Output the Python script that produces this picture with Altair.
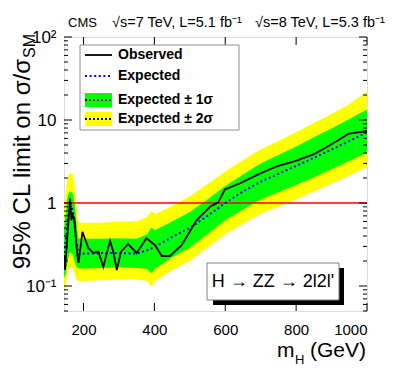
import altair as alt
import pandas as pd

# ---------------- data ----------------
band_m = [145, 150, 155, 160, 165, 170, 175, 180, 185, 190, 200, 250, 300, 350, 380, 390,
          395, 400, 410, 450, 500, 550, 600, 650, 700, 750, 800, 850, 900, 950, 1000]
exp_v = [0.25, 0.35, 0.60, 0.85, 0.93, 0.80, 0.55, 0.33, 0.25, 0.24, 0.245, 0.25, 0.25, 0.245, 0.27, 0.28,
         0.29, 0.30, 0.31, 0.39, 0.50, 0.70, 1.0, 1.38, 1.8, 2.25, 2.8, 3.5, 4.4, 5.6, 7.1]
g_hi = [0.50, 0.75, 1.2, 1.37, 1.37, 1.3, 1.0, 0.6, 0.38, 0.37, 0.37, 0.37, 0.375, 0.37, 0.42, 0.50,
        0.50, 0.47, 0.49, 0.60, 0.78, 1.1, 1.6, 2.2, 3.0, 3.8, 4.8, 6.2, 7.9, 10.3, 13.4]
g_lo = [0.124, 0.14, 0.2, 0.25, 0.25, 0.24, 0.2, 0.17, 0.165, 0.163, 0.163, 0.165, 0.168, 0.165, 0.16, 0.143,
        0.145, 0.16, 0.17, 0.22, 0.29, 0.42, 0.62, 0.83, 1.1, 1.35, 1.65, 2.05, 2.55, 3.2, 4.04]
y_hi = [0.82, 1.3, 2.0, 2.28, 2.28, 2.2, 1.6, 0.9, 0.6, 0.58, 0.58, 0.58, 0.6, 0.6, 0.68, 0.79,
        0.79, 0.74, 0.76, 0.92, 1.2, 1.7, 2.4, 3.3, 4.43, 5.6, 7.1, 9.2, 11.8, 15.5, 21.9]
y_lo = [0.09, 0.095, 0.14, 0.17, 0.17, 0.165, 0.14, 0.12, 0.115, 0.115, 0.115, 0.117, 0.12, 0.12, 0.115, 0.10,
        0.10, 0.113, 0.12, 0.155, 0.2, 0.29, 0.42, 0.56, 0.74, 0.9, 1.1, 1.38, 1.7, 2.15, 2.69]

obs_m = [145, 148, 162, 166, 169, 174, 182, 186, 197, 214, 228, 242, 256, 275, 284, 294, 306, 326, 350, 378,
         402, 421, 444, 477, 519, 557, 580, 599, 642, 689, 726, 750, 797, 849, 872, 919, 947, 1000]
obs_v = [0.236, 0.156, 1.14, 0.62, 0.72, 0.65, 0.25, 0.19, 0.45, 0.285, 0.25, 0.26, 0.17, 0.35, 0.26, 0.156,
         0.26, 0.32, 0.25, 0.375, 0.31, 0.23, 0.23, 0.31, 0.62, 0.90, 1.01, 1.46, 1.73, 2.17, 2.55, 2.8, 3.2,
         3.86, 4.35, 5.7, 6.8, 7.37]

sm_line = [1]
x_major = [200, 400, 600, 800, 1000]
y_major = [0.1, 1, 10, 100]
y_minor = [0.05, 0.06, 0.07, 0.08, 0.09, 0.2, 0.3, 0.4, 0.5, 0.6, 0.7, 0.8, 0.9,
           2, 3, 4, 5, 6, 7, 8, 9, 20, 30, 40, 50, 60, 70, 80, 90]

# ---------------- chart ----------------
W, H = 303, 274
FONT = "Liberation Sans"

band = pd.DataFrame({"m": band_m, "exp": exp_v, "g_lo": g_lo, "g_hi": g_hi,
                     "y_lo": y_lo, "y_hi": y_hi})
obs = pd.DataFrame({"m": obs_m, "v": obs_v})
one = pd.DataFrame({"k": [0]})

xscale = alt.Scale(domain=[145, 1000], nice=False, zero=False)
yscale = alt.Scale(type="log", domain=[0.05, 100], nice=False)
xaxis = alt.Axis(values=x_major, format="d", labelFontSize=15, labelPadding=11, ticks=False,
                 domain=False, grid=False, title="", labelFont=FONT, labelColor="black")
yaxis = alt.Axis(values=y_major, labelFontSize=17, labelPadding=8, ticks=False,
                 domain=False, grid=False, title="", labelFont=FONT, labelColor="black",
                 labelExpr="datum.value < 0.5 ? '10⁻¹' : datum.value > 50 ? '10²' : datum.value > 5 ? '10' : '1'")

X = alt.X("m:Q", scale=xscale, axis=xaxis)

yellow = alt.Chart(band).mark_area(color="#ffff00", clip=True).encode(
    x=X, y=alt.Y("y_lo:Q", scale=yscale, axis=yaxis), y2="y_hi:Q")
green = alt.Chart(band).mark_area(color="#00ff00", clip=True).encode(
    x=X, y=alt.Y("g_lo:Q", scale=yscale, axis=yaxis), y2="g_hi:Q")
red = alt.Chart(pd.DataFrame({"v": sm_line})).mark_rule(color="#ff0000", strokeWidth=1.5).encode(
    y=alt.Y("v:Q", scale=yscale, axis=yaxis))
expected = alt.Chart(band).mark_line(color="#0000ee", strokeWidth=2, strokeDash=[2, 2.6], clip=True).encode(
    x=X, y=alt.Y("exp:Q", scale=yscale, axis=yaxis))
observed = alt.Chart(obs).mark_line(color="black", strokeWidth=1.8, clip=True).encode(
    x=X, y=alt.Y("v:Q", scale=yscale, axis=yaxis))

layers = [yellow, green, red, expected, observed]

# inward ticks
ymaj = pd.DataFrame({"v": y_major})
ymin = pd.DataFrame({"v": y_minor})
xmaj = pd.DataFrame({"m": x_major})
for df, ln in ((ymaj, 8), (ymin, 4)):
    Yt = alt.Y("v:Q", scale=yscale, axis=yaxis)
    layers.append(alt.Chart(df).mark_rule(color="black", strokeWidth=1).encode(
        y=Yt, x=alt.value(0), x2=alt.value(ln)))
    layers.append(alt.Chart(df).mark_rule(color="black", strokeWidth=1).encode(
        y=Yt, x=alt.value(W - ln), x2=alt.value(W)))
layers.append(alt.Chart(xmaj).mark_rule(color="black", strokeWidth=1).encode(
    x=X, y=alt.value(H - 8), y2=alt.value(H)))
layers.append(alt.Chart(xmaj).mark_rule(color="black", strokeWidth=1).encode(
    x=X, y=alt.value(0), y2=alt.value(8)))


def txt(s, x, y, size, **kw):
    return alt.Chart(one).mark_text(text=s, fontSize=size, font=FONT, color="black", **kw).encode(
        x=alt.value(x), y=alt.value(y))


def rect(x, x2, y, y2, **kw):
    return alt.Chart(one).mark_rect(**kw).encode(
        x=alt.value(x), x2=alt.value(x2), y=alt.value(y), y2=alt.value(y2))


def hline(x, x2, y, **kw):
    return alt.Chart(one).mark_rule(**kw).encode(x=alt.value(x), x2=alt.value(x2), y=alt.value(y))


# legend
layers += [
    rect(16, 175, 8, 93, fill="white", stroke="#909090", strokeWidth=1),
    hline(21, 48, 18, color="black", strokeWidth=1.8),
    hline(21, 48, 39, color="#0000ee", strokeWidth=2, strokeDash=[2, 2.6]),
    rect(21, 48, 56, 70, fill="#00ff00"),
    hline(21, 48, 63, color="black", strokeWidth=1.8, strokeDash=[2, 2]),
    rect(21, 48, 75, 89, fill="#ffff00"),
    hline(21, 48, 82, color="black", strokeWidth=1.8, strokeDash=[2, 2]),
    txt("Observed", 54, 18, 14, fontWeight="bold", align="left", baseline="middle"),
    txt("Expected", 54, 39, 14, fontWeight="bold", align="left", baseline="middle"),
    txt("Expected ± 1σ", 54, 63, 14, fontWeight="bold", align="left", baseline="middle"),
    txt("Expected ± 2σ", 54, 82, 14, fontWeight="bold", align="left", baseline="middle"),
]

# channel box with shadow
layers += [
    rect(149, 280, 231, 268, fill="black"),
    rect(143, 275, 226, 263, fill="white", stroke="#808080", strokeWidth=1),
    txt("H → ZZ → 2l2l'", 209, 245, 18, align="center", baseline="middle"),
]

# header
layers += [
    txt("CMS", 4, -10, 13, align="left", baseline="alphabetic"),
    txt("√s=7 TeV, L=5.1 fb⁻¹", 48, -10, 14.5, align="left", baseline="alphabetic"),
    txt("√s=8 TeV, L=5.3 fb⁻¹", 191, -10, 14.5, align="left", baseline="alphabetic"),
]

# axis titles
layers += [
    txt("95% CL limit on σ/σ", -34, 22, 24, angle=270, align="right", baseline="alphabetic"),
    txt("SM", -29, 21, 16, angle=270, align="left", baseline="alphabetic"),
    txt("m", 213, 320, 21, align="left", baseline="alphabetic"),
    txt("H", 231, 327, 13, align="left", baseline="alphabetic"),
    txt("(GeV)", 246, 320, 21, align="left", baseline="alphabetic"),
]

chart = alt.layer(*layers).properties(
    width=W, height=H,
    padding={"left": 56, "top": 29, "right": 24, "bottom": 56},
    autosize="none",
).configure_view(stroke="black", strokeWidth=1).configure(background="white")

chart.save("out.html", embed_options={"renderer": "svg", "actions": False})
